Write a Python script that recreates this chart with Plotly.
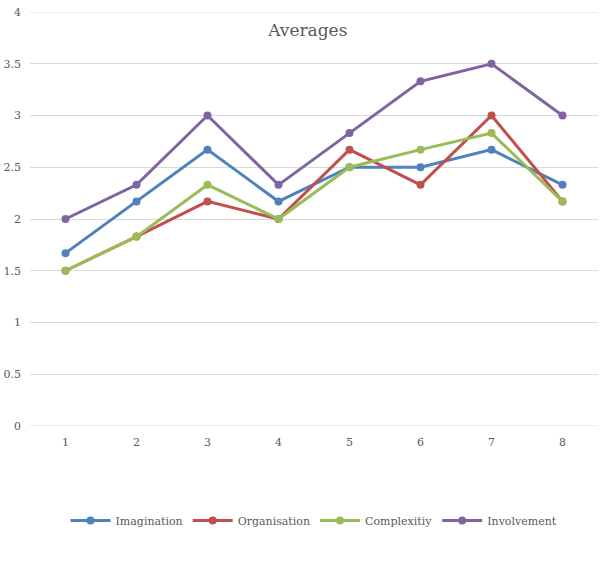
import plotly.graph_objects as go

categories = [1, 2, 3, 4, 5, 6, 7, 8]
imagination = [1.67, 2.17, 2.67, 2.17, 2.5, 2.5, 2.67, 2.33]
organisation = [1.5, 1.83, 2.17, 2.0, 2.67, 2.33, 3.0, 2.17]
complexity = [1.5, 1.83, 2.33, 2.0, 2.5, 2.67, 2.83, 2.17]
involvement = [2.0, 2.33, 3.0, 2.33, 2.83, 3.33, 3.5, 3.0]
y_ticks = [0, 0.5, 1, 1.5, 2, 2.5, 3, 3.5, 4]

series = [
    ("Imagination", imagination, "#4F81BD"),
    ("Organisation", organisation, "#C0504D"),
    ("Complexitiy", complexity, "#9BBB59"),
    ("Involvement", involvement, "#8064A2"),
]

FONT = "DejaVu Serif"
fig = go.Figure()
for name, vals, col in series:
    fig.add_trace(go.Scatter(
        x=categories, y=vals, name=name, mode="lines+markers",
        line=dict(color=col, width=3),
        marker=dict(color=col, size=8),
    ))

for yv in (y_ticks[0], y_ticks[-1]):
    fig.add_shape(type="line", xref="paper", yref="y", x0=0, x1=1, y0=yv, y1=yv,
                  line=dict(color="#D9D9D9", width=1), layer="below")

fig.update_layout(
    width=600, height=581,
    margin=dict(l=30, r=2, t=12, b=155),
    paper_bgcolor="white", plot_bgcolor="white",
    font=dict(family=FONT, size=11, color="#595959"),
    title=dict(text="Averages", x=0.513, xanchor="center", y=1 - 30 / 581, yanchor="middle",
               font=dict(family=FONT, size=17, color="#595959")),
    xaxis=dict(range=[0.5, 8.5], tickvals=categories, showgrid=False, zeroline=False,
               showline=False, ticks="", ticklabelstandoff=8),
    yaxis=dict(range=[0, 4], tickvals=y_ticks,
               ticktext=[f"{v:g}" for v in y_ticks],
               showgrid=True, gridcolor="#D9D9D9",
               gridwidth=1, zeroline=False, ticks="", ticklabelstandoff=8),
    legend=dict(orientation="h", x=0.5, xanchor="center", y=-0.228, yanchor="middle",
                font=dict(family=FONT, size=11, color="#595959"), itemwidth=40),
    showlegend=True,
)
fig.write_html("out.html")
